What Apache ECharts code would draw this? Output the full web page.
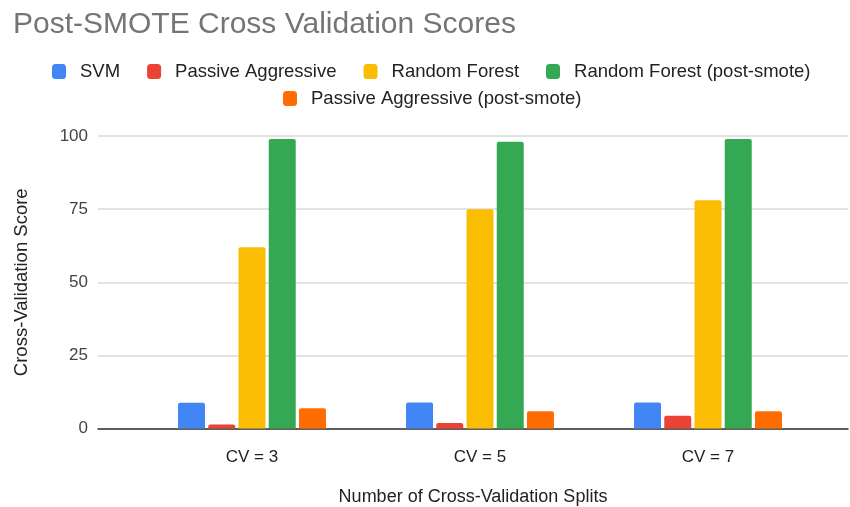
<!DOCTYPE html>
<html>
<head>
<meta charset="utf-8">
<style>
  html, body { margin: 0; padding: 0; background: #fff; }
  #chart { width: 850px; height: 507px; }
</style>
<script src="https://cdn.jsdelivr.net/npm/echarts@6/dist/echarts.min.js"></script>
</head>
<body>
<div id="chart"></div>
<script>
// chart data
var categories = ['CV = 3', 'CV = 5', 'CV = 7']
var seriesNames = ['SVM', 'Passive Aggressive', 'Random Forest', 'Random Forest (post-smote)', 'Passive Aggressive (post-smote)']
var svm = [8.8, 8.9, 8.9]
var passiveAggressive = [1.4, 1.9, 4.4]
var randomForest = [62, 75, 78]
var randomForestSmote = [99, 98, 99]
var passiveAggressiveSmote = [6.9, 5.9, 5.9]
var yTicks = [0, 25, 50, 75, 100]

var colors = ['#4285F4', '#EA4335', '#FBBC04', '#34A853', '#FF6D01']
var values = [svm, passiveAggressive, randomForest, randomForestSmote, passiveAggressiveSmote]

var chart = echarts.init(document.getElementById('chart'))

var fontFamily = 'Liberation Sans, Arial, sans-serif'
var legendText = {
  fontFamily: fontFamily,
  fontSize: 18.5,
  color: '#222',
  padding: [0, 0, 0, 9]
}

var series = seriesNames.map(function (name, i) {
  return {
    name: name,
    type: 'bar',
    xAxisIndex: 1,
    yAxisIndex: 1,
    data: values[i],
    barWidth: 27,
    barGap: '12%',
    itemStyle: {
      color: colors[i],
      borderRadius: [2, 2, 0, 0]
    }
  }
})

chart.setOption({
  animation: false,
  backgroundColor: '#fff',
  title: {
    text: 'Post-SMOTE Cross Validation Scores',
    left: 8,
    top: 5,
    textStyle: {
      fontFamily: fontFamily,
      fontSize: 30,
      fontWeight: 'normal',
      color: '#757575'
    }
  },
  legend: [
    {
      data: seriesNames.slice(0, 4),
      left: 52,
      top: 62,
      padding: 0,
      itemWidth: 14,
      itemHeight: 15,
      itemGap: 27,
      icon: 'roundRect',
      textStyle: legendText
    },
    {
      data: seriesNames.slice(4),
      left: 283,
      top: 89,
      padding: 0,
      itemWidth: 14,
      itemHeight: 15,
      icon: 'roundRect',
      textStyle: legendText
    }
  ],
  grid: [
    // gridlines + axis titles
    { left: 98, right: 2, top: 136, bottom: 78.5, outerBoundsMode: 'none' },
    // bars
    { left: 138, right: 28, top: 136, bottom: 78.5, outerBoundsMode: 'none' }
  ],
  xAxis: [
    {
      type: 'category',
      gridIndex: 0,
      data: categories,
      name: 'Number of Cross-Validation Splits',
      nameLocation: 'middle',
      nameGap: 60,
      nameTextStyle: {
        fontFamily: fontFamily,
        fontSize: 18,
        color: '#222'
      },
      axisLine: { lineStyle: { color: '#333', width: 1.5 } },
      axisTick: { show: false },
      axisLabel: { show: false }
    },
    {
      type: 'category',
      gridIndex: 1,
      data: categories,
      axisLine: { show: false },
      axisTick: { show: false },
      axisLabel: {
        margin: 20,
        fontFamily: fontFamily,
        fontSize: 17,
        color: '#222'
      }
    }
  ],
  yAxis: [
    {
      type: 'value',
      gridIndex: 0,
      min: yTicks[0],
      max: yTicks[yTicks.length - 1],
      interval: 25,
      name: 'Cross-Validation Score',
      nameLocation: 'middle',
      nameGap: 67,
      nameTextStyle: {
        fontFamily: fontFamily,
        fontSize: 18.5,
        color: '#222'
      },
      axisLine: { show: false },
      axisTick: { show: false },
      axisLabel: {
        margin: 10,
        fontFamily: fontFamily,
        fontSize: 17,
        color: '#444'
      },
      splitLine: { lineStyle: { color: '#d9d9d9', width: 1.5 } }
    },
    {
      type: 'value',
      gridIndex: 1,
      min: yTicks[0],
      max: yTicks[yTicks.length - 1],
      interval: 25,
      show: false
    }
  ],
  series: series
})
</script>
</body>
</html>
